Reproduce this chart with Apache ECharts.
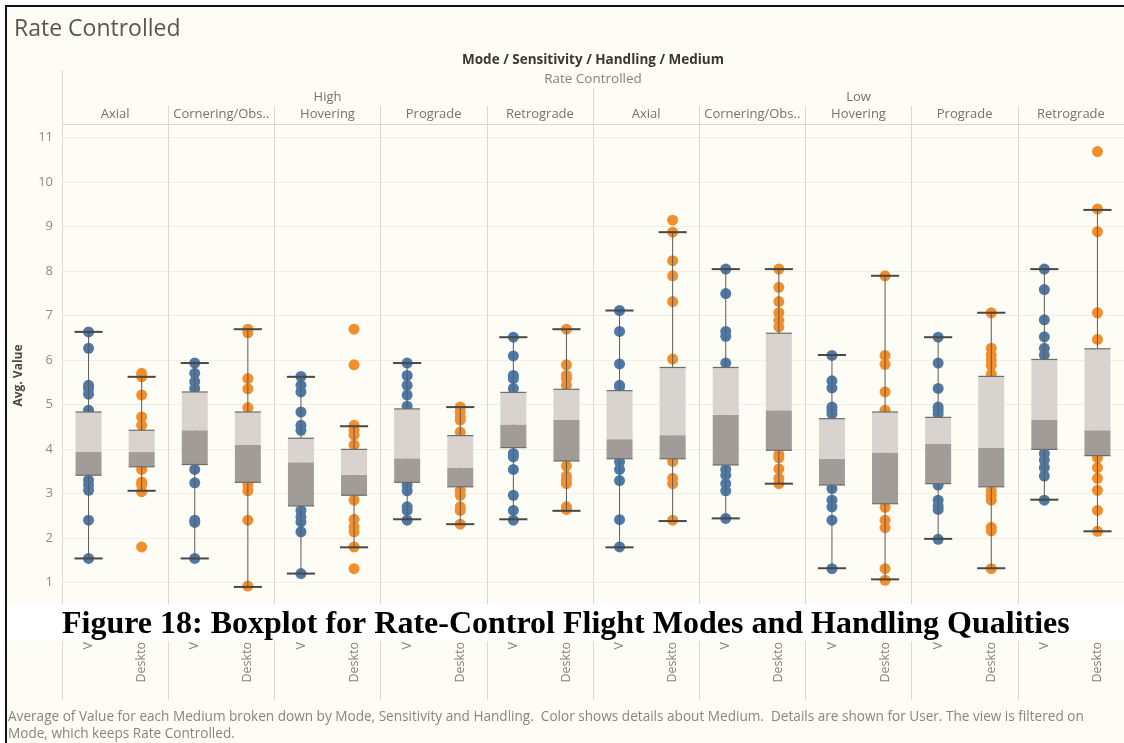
<!DOCTYPE html>
<html>
<head>
<meta charset="utf-8">
<script src="https://cdn.jsdelivr.net/npm/echarts@6/dist/echarts.min.js"></script>
<style>
  html, body { margin: 0; padding: 0; background: #ffffff; }
  #chart { position: absolute; left: 0; top: 0; width: 1124px; height: 743px; }
</style>
</head>
<body>
<div id="chart"></div>
<script>
// Header hierarchy: Mode / Sensitivity / Handling / Medium
const modeName = 'Rate Controlled';
const sensitivities = ['High', 'Low'];
const handlings = ['Axial', 'Cornering/Obs..', 'Hovering', 'Prograde', 'Retrograde'];
const mediums = ['V', 'Deskto'];
const yTicks = [1, 2, 3, 4, 5, 6, 7, 8, 9, 10, 11];

// Box plot statistics, one entry per Sensitivity x Handling x Medium column
const boxLow    = [1.54, 3.06, 1.54, 0.90, 1.20, 1.79, 2.42, 2.31, 2.42, 2.61,
                   1.79, 2.38, 2.44, 3.22, 1.32, 1.07, 1.98, 1.32, 2.86, 2.15];
const boxQ1     = [3.41, 3.60, 3.65, 3.25, 2.72, 2.96, 3.25, 3.15, 4.03, 3.73,
                   3.78, 3.78, 3.64, 3.97, 3.19, 2.77, 3.22, 3.15, 3.99, 3.85];
const boxMedian = [3.93, 3.93, 4.42, 4.09, 3.70, 3.42, 3.79, 3.58, 4.55, 4.65,
                   4.22, 4.31, 4.77, 4.87, 3.78, 3.92, 4.11, 4.02, 4.65, 4.42];
const boxQ3     = [4.83, 4.42, 5.28, 4.83, 4.24, 3.99, 4.90, 4.30, 5.27, 5.34,
                   5.31, 5.83, 5.83, 6.60, 4.68, 4.83, 4.71, 5.63, 6.01, 6.25];
const boxHigh   = [6.63, 5.62, 5.93, 6.69, 5.62, 4.51, 5.93, 4.94, 6.51, 6.69,
                   7.11, 8.87, 8.04, 8.04, 6.11, 7.89, 6.51, 7.06, 8.04, 9.37];

// Per-user average values shown as dots in each column
const userValues = [
  [6.63, 6.26, 5.43, 5.36, 5.23, 4.87, 3.30, 3.19, 3.07, 2.40, 1.54],
  [5.70, 5.62, 5.21, 4.72, 4.53, 3.54, 3.26, 3.19, 3.04, 1.80],
  [5.93, 5.70, 5.51, 5.36, 3.54, 3.24, 2.40, 2.35, 1.54],
  [6.69, 6.61, 5.58, 5.35, 4.93, 3.19, 3.06, 2.40, 0.92],
  [5.63, 5.43, 5.28, 4.83, 4.53, 4.42, 2.62, 2.47, 2.36, 2.14, 1.20],
  [6.69, 5.89, 4.53, 4.42, 4.31, 4.09, 2.85, 2.42, 2.25, 2.14, 1.80, 1.31],
  [5.93, 5.65, 5.43, 5.21, 4.96, 3.19, 3.06, 2.70, 2.62, 2.40],
  [4.94, 4.83, 4.72, 4.65, 4.38, 3.07, 2.96, 2.70, 2.62, 2.31],
  [6.51, 6.09, 5.65, 5.58, 5.36, 3.90, 3.82, 3.54, 2.96, 2.62, 2.40],
  [6.69, 5.89, 5.65, 5.58, 5.43, 3.62, 3.39, 3.30, 3.22, 2.70, 2.64],
  [7.11, 6.64, 5.91, 5.43, 5.40, 3.71, 3.54, 3.29, 2.41, 1.80],
  [9.14, 8.87, 8.23, 7.89, 7.31, 6.02, 3.72, 3.34, 3.22, 2.40],
  [8.04, 7.49, 6.64, 6.53, 5.93, 3.54, 3.41, 3.22, 3.06, 2.44],
  [8.04, 7.63, 7.31, 7.06, 6.89, 6.74, 3.87, 3.80, 3.55, 3.34, 3.22],
  [6.10, 5.53, 5.37, 4.94, 4.87, 4.79, 3.11, 2.85, 2.70, 2.40, 1.31],
  [7.89, 6.10, 5.90, 5.28, 4.87, 2.69, 2.40, 2.23, 1.31, 1.05],
  [6.51, 5.93, 5.36, 4.94, 4.87, 4.79, 3.19, 2.85, 2.72, 2.64, 1.97],
  [7.06, 6.26, 6.11, 6.00, 5.88, 5.68, 3.06, 2.96, 2.85, 2.24, 2.16, 1.31],
  [8.04, 7.58, 6.90, 6.52, 6.26, 6.11, 3.90, 3.75, 3.58, 3.39, 2.85],
  [10.68, 9.39, 8.88, 7.06, 6.46, 3.80, 3.58, 3.34, 3.07, 2.62, 2.15]
];

const FONT = '"Open Sans", Lato, sans-serif';
const GRID_LINE = '#ddd7d0';
const MUTED = '#857f79';

// Category keys for each level of the header
const columnKeys = [];
const panelKeys = [];
sensitivities.forEach(s => handlings.forEach(h => {
  panelKeys.push(s + ' / ' + h);
  mediums.forEach(m => columnKeys.push(s + ' / ' + h + ' / ' + m));
}));

const vrDots = [];
const deskDots = [];
userValues.forEach((vals, i) => vals.forEach(v => (i % 2 === 0 ? vrDots : deskDots).push([i, v])));

const boxData = boxLow.map((lo, i) => [i, lo, boxQ1[i], boxMedian[i], boxQ3[i], boxHigh[i]]);

function renderBox(params, api) {
  const i = api.value(0);
  const at = v => api.coord([i, v]);
  const low = at(api.value(1));
  const cx = low[0];
  const yLow = low[1];
  const yQ1 = at(api.value(2))[1];
  const yMed = at(api.value(3))[1];
  const yQ3 = at(api.value(4))[1];
  const yHigh = at(api.value(5))[1];
  const band = api.size([1, 0])[0];
  const bw = band * 0.49;
  const cw = band * 0.53;
  const seg = (x1, y1, x2, y2, stroke, w) => ({
    type: 'line', shape: { x1, y1, x2, y2 }, style: { stroke, lineWidth: w }
  });
  return {
    type: 'group',
    children: [
      seg(cx, yHigh, cx, yLow, '#5e5a56', 1),
      { type: 'rect', shape: { x: cx - bw / 2, y: yMed, width: bw, height: yQ1 - yMed },
        style: { fill: '#a19c97' } },
      { type: 'rect', shape: { x: cx - bw / 2, y: yQ3, width: bw, height: yMed - yQ3 },
        style: { fill: '#d8d3cf' } },
      seg(cx - bw / 2, yQ3, cx + bw / 2, yQ3, '#6f6b67', 1.2),
      seg(cx - bw / 2, yQ1, cx + bw / 2, yQ1, '#6f6b67', 1.2),
      seg(cx - cw / 2, yHigh, cx + cw / 2, yHigh, '#4a4744', 2),
      seg(cx - cw / 2, yLow, cx + cw / 2, yLow, '#4a4744', 2)
    ]
  };
}

const chart = echarts.init(document.getElementById('chart'), null, { renderer: 'canvas' });

chart.setOption({
  backgroundColor: '#fefdf5',
  animation: false,
  title: {
    text: modeName,
    left: 9,
    top: 13,
    textStyle: { fontFamily: FONT, fontSize: 23, fontWeight: 'normal', color: '#5a5550' }
  },
  grid: { left: 62, right: 0, top: 124, bottom: 116, containLabel: false, outerBoundsMode: 'none' },
  xAxis: [
    {
      type: 'category',
      position: 'bottom',
      data: columnKeys,
      boundaryGap: true,
      axisLine: { show: false },
      axisTick: { show: true, length: 73, interval: idx => idx % 2 === 0,
                  lineStyle: { color: GRID_LINE, width: 1 } },
      axisLabel: { interval: 0, rotate: 90, margin: 15, fontFamily: FONT, fontSize: 12.5,
                   color: MUTED, formatter: (v, idx) => mediums[idx % mediums.length] },
      splitLine: { show: false }
    },
    {
      type: 'category',
      position: 'top',
      data: panelKeys,
      boundaryGap: true,
      axisLine: { show: true, lineStyle: { color: GRID_LINE, width: 1 } },
      axisTick: { show: true, length: 18, interval: 0, lineStyle: { color: GRID_LINE } },
      axisLabel: { interval: 0, margin: 3, fontFamily: FONT, fontSize: 13, color: '#77716c',
                   formatter: (v, idx) => handlings[idx % handlings.length] },
      splitLine: { show: true, interval: 0, lineStyle: { color: GRID_LINE, width: 1 } }
    },
    {
      type: 'category',
      position: 'top',
      offset: 18,
      data: sensitivities,
      boundaryGap: true,
      axisLine: { show: false },
      axisTick: { show: true, length: 18, interval: 0, lineStyle: { color: GRID_LINE } },
      axisLabel: { interval: 0, margin: 2, fontFamily: FONT, fontSize: 13, color: '#77716c' },
      splitLine: { show: false }
    },
    {
      type: 'category',
      position: 'top',
      offset: 36,
      data: [modeName],
      boundaryGap: true,
      name: 'Mode / Sensitivity / Handling / Medium',
      nameLocation: 'middle',
      nameGap: 20,
      nameTextStyle: { fontFamily: FONT, fontSize: 13.5, fontWeight: 'bold', color: '#3a3632' },
      axisLine: { show: false },
      axisTick: { show: true, length: 18, interval: 0, lineStyle: { color: GRID_LINE } },
      axisLabel: { interval: 0, margin: 2, fontFamily: FONT, fontSize: 13.5, color: '#8a7f74' },
      splitLine: { show: false }
    }
  ],
  yAxis: {
    type: 'value',
    min: 0,
    max: 11.3,
    interval: 1,
    name: 'Avg. Value',
    nameLocation: 'middle',
    nameGap: 37,
    nameRotate: 90,
    nameTextStyle: { fontFamily: FONT, fontSize: 12, fontWeight: 'bold', color: '#4a4540' },
    axisLine: { show: false },
    axisTick: { show: false },
    axisLabel: {
      margin: 9, fontFamily: FONT, fontSize: 13, color: '#8e8984',
      formatter: v => (yTicks.indexOf(v) >= 0 ? String(v) : '')
    },
    splitLine: { show: true, lineStyle: { color: '#f2eee6', width: 1 } }
  },
  series: [
    {
      name: 'V',
      type: 'scatter',
      xAxisIndex: 0,
      data: vrDots,
      symbolSize: 11,
      itemStyle: { color: '#4e79a7', opacity: 1 },
      z: 2
    },
    {
      name: 'Deskto',
      type: 'scatter',
      xAxisIndex: 0,
      data: deskDots,
      symbolSize: 11,
      itemStyle: { color: '#f28e2b', opacity: 1 },
      z: 2
    },
    {
      name: 'Box',
      type: 'custom',
      xAxisIndex: 0,
      data: boxData,
      encode: { x: 0, y: [1, 2, 3, 4, 5] },
      renderItem: renderBox,
      z: 3
    }
  ],
  graphic: [
    // page frame
    { type: 'rect', z: 200, shape: { x: 0, y: 0, width: 1124, height: 5 }, style: { fill: '#ffffff' } },
    { type: 'rect', z: 200, shape: { x: 0, y: 0, width: 5, height: 743 }, style: { fill: '#ffffff' } },
    { type: 'rect', z: 201, shape: { x: 5, y: 5, width: 1119, height: 2 }, style: { fill: '#111111' } },
    { type: 'rect', z: 201, shape: { x: 5, y: 5, width: 2, height: 738 }, style: { fill: '#111111' } },
    // figure caption band
    { type: 'rect', z: 150, shape: { x: 7, y: 604, width: 1117, height: 37 }, style: { fill: '#ffffff' } },
    {
      type: 'text', z: 151, left: 62, top: 609,
      style: {
        text: 'Figure 18: Boxplot for Rate-Control Flight Modes and Handling Qualities',
        font: 'bold 32px "Liberation Serif", "Times New Roman", serif',
        fill: '#000000'
      }
    },
    // footer description
    {
      type: 'text', z: 10, left: 8, top: 709,
      style: {
        text: 'Average of Value for each Medium broken down by Mode, Sensitivity and Handling.  Color shows details about Medium.  Details are shown for User. The view is filtered on\nMode, which keeps Rate Controlled.',
        font: '13.6px ' + FONT,
        lineHeight: 17,
        fill: '#8a847e'
      }
    }
  ]
});
</script>
</body>
</html>
